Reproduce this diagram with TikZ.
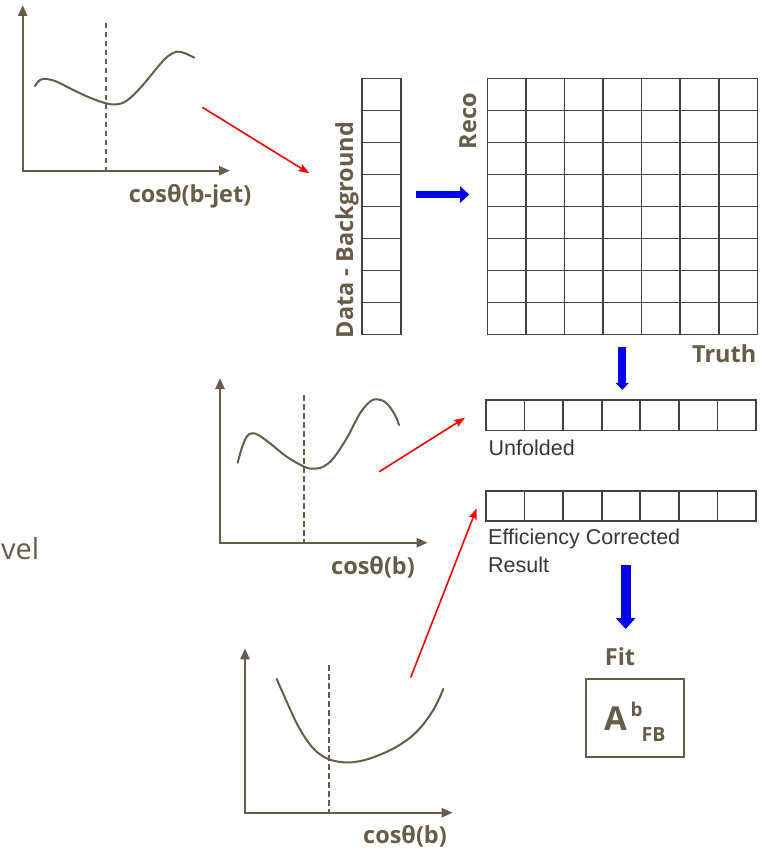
\documentclass[tikz,border=0pt]{standalone}
\usepackage{fontspec}
\setmainfont{Open Sans}
\newfontfamily\arialf{Liberation Sans}
\usetikzlibrary{arrows.meta}
\definecolor{brn}{RGB}{104,92,72}
\definecolor{gridc}{RGB}{65,65,65}
\definecolor{txtg}{RGB}{55,55,55}
\definecolor{blu}{RGB}{0,0,235}
\begin{document}
\begin{tikzpicture}[x=1pt,y=-1pt,
  axes/.style={brn, line width=2.4pt, line join=miter, {Triangle[length=11pt,width=9pt]}-{Triangle[length=11pt,width=9pt]}},
  curve/.style={brn, line width=2pt, line cap=round},
  vdash/.style={brn, line width=2pt, dash pattern=on 5.5pt off 3.5pt},
  lab/.style={brn, font=\fontsize{23.5}{26}\selectfont\bfseries, inner sep=0pt},
  gtxt/.style={txtg, font=\arialf\fontsize{21.5}{28}\selectfont, inner sep=0pt},
  cellbox/.style={draw=gridc, line width=1.6pt, inner sep=0pt},
  redarr/.style={red, line width=1.6pt, -{Stealth[length=11pt,width=8pt,inset=2pt]}},
]
\useasboundingbox[fill=white] (0,0) rectangle (769,851);

% ---------- plot 1 ----------
\draw[axes] (22.7,5) -- (22.7,170.7) -- (230,170.7);
\draw[vdash] (106,22.7) -- (106,170.7);
\draw[curve] plot[smooth, tension=0.6] coordinates {(35,86) (40,80) (46.7,79) (56.7,81.7) (73.3,90) (90,97.7) (106,103.3) (116.7,104.3) (126.7,100.7) (140,88.3) (156.7,68.3) (166.7,57.3) (176.7,51.7) (185,53.3) (194.3,57.7)};
\node[lab, anchor=base] (l1) at (190,202.3) {cosθ(b-jet)};

% ---------- plot 2 ----------
\draw[axes] (220,378) -- (220,542.7) -- (427.7,542.7);
\draw[vdash] (304.3,395) -- (304.3,542.7);
\draw[curve] plot[smooth, tension=0.6] coordinates {(237.7,462.7) (241.7,448.3) (246.7,436.7) (251.7,433.3) (258.3,435) (270,443.3) (286.7,456.7) (304.3,466.7) (313.3,468.7) (323.3,466.7) (333.3,458.3) (346.7,438.3) (360,413.3) (370,401.7) (377.7,399.3) (386.7,403.3) (395,415) (399,425)};
\node[lab, anchor=base] (l2) at (373,574) {cosθ(b)};

% ---------- plot 3 ----------
\draw[axes] (245,648.3) -- (245,812.7) -- (452.7,812.7);
\draw[vdash] (329,665) -- (329,812.7);
\draw[curve] plot[smooth, tension=0.6] coordinates {(276.7,679) (286.7,701.7) (296.7,723.3) (306.7,740) (316.7,751.7) (329,759.3) (343.3,762.3) (356.7,761.7) (373.3,757.3) (396.7,746.7) (416.7,731.7) (433.3,710) (443.3,689)};
\node[lab, anchor=base] (l3) at (405,843.3) {cosθ(b)};

% ---------- level text ----------
\node[brn, anchor=base west, inner sep=0pt, font=\fontsize{29}{29}\selectfont] (vel) at (1,559.3) {vel};

% ---------- data column ----------
\node[cellbox, minimum width=39pt, minimum height=256pt] (db) at (381.2,206.3) {};
\foreach \i in {1,...,7} \draw[gridc, line width=1.6pt] (361.7,78.3+32*\i) -- (400.7,78.3+32*\i);
\node[lab, rotate=90, anchor=base] (dbl) at (353,230) {Data - Background};

% ---------- matrix ----------
\node[cellbox, minimum width=270pt, minimum height=256pt] (M) at (622.3,206.3) {};
\foreach \i in {1,...,7} \draw[gridc, line width=1.6pt] (487.3,78.3+32*\i) -- (757.3,78.3+32*\i);
\foreach \j in {1,...,6} \draw[gridc, line width=1.6pt] (487.3+38.571*\j,78.3) -- (487.3+38.571*\j,334.3);
\node[lab, rotate=90, anchor=base] (reco) at (476,121) {Reco};
\node[lab, anchor=base east] (truth) at (756.5,362.7) {Truth};

% ---------- unfolded ----------
\node[cellbox, minimum width=270pt, minimum height=30.7pt] (uf) at (621,415.3) {};
\foreach \j in {1,...,6} \draw[gridc, line width=1.6pt] (486+38.571*\j,400) -- (486+38.571*\j,430.7);
\node[gtxt, anchor=base west] (uft) at (488.5,455) {Unfolded};

% ---------- efficiency corrected ----------
\node[cellbox, minimum width=270pt, minimum height=30pt] (ef) at (621,505.7) {};
\foreach \j in {1,...,6} \draw[gridc, line width=1.6pt] (486+38.571*\j,490.7) -- (486+38.571*\j,520.7);
\node[gtxt, anchor=base west] (eft1) at (488,544.3) {Efficiency Corrected};
\node[gtxt, anchor=base west] (eft2) at (488,572.3) {Result};

% ---------- fit ----------
\node[lab, anchor=base] (fit) at (620,665) {Fit};
\node[draw=brn, line width=2pt, minimum width=98.3pt, minimum height=77.7pt, inner sep=0pt] (fb) at (635.2,717.8) {};
\node[lab, anchor=base west, font=\fontsize{33}{33}\selectfont\bfseries] (fa) at (604,730.7) {A};
\node[lab, anchor=base west, font=\fontsize{19}{19}\selectfont\bfseries] (fsup) at (630.5,716.7) {b};
\node[lab, anchor=base west, font=\fontsize{19.5}{19.5}\selectfont\bfseries] (fsub) at (641.5,741.7) {FB};

% ---------- blue arrows ----------
\draw[blu, line width=7.7pt, -{Triangle[length=9pt,width=16pt]}] ([shift={(14.3pt,11.8pt)}]db.east) -- ([shift={(-17.3pt,11.8pt)}]M.west);
\draw[blu, line width=7.7pt, -{Triangle[length=7pt,width=13pt]}] ([yshift=-11.7pt]M.south) -- ([yshift=9.3pt]M.south |- uf.north);
\coordinate (d2s) at (625.7,565);
\coordinate (d2e) at (625.7,629);
\draw[blu, line width=10pt, -{Triangle[length=11pt,width=19pt]}] (d2s) -- (d2e);

% ---------- red arrows ----------
\coordinate (r1s) at (202.3,107.3);
\coordinate (r1e) at (309.3,173.3);
\coordinate (r2s) at (379.3,471.7);
\coordinate (r2e) at (465,417.7);
\coordinate (r3s) at (410.7,677.5);
\coordinate (r3e) at (476.7,508.3);
\draw[redarr] (r1s) -- (r1e);
\draw[redarr] (r2s) -- (r2e);
\draw[redarr] (r3s) -- (r3e);
\end{tikzpicture}
\end{document}
